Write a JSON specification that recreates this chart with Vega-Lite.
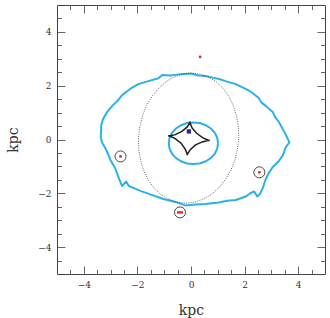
{
  "$schema": "https://vega.github.io/schema/vega-lite/v6.json",
  "width": 268,
  "height": 269,
  "autosize": {"type": "none"},
  "padding": {"left": 57, "top": 5, "right": 5, "bottom": 44},
  "background": "white",
  "config": {
    "view": {"stroke": "#444", "strokeWidth": 1},
    "axis": {
      "domain": false,
      "grid": false,
      "tickColor": "#555",
      "tickWidth": 0.9,
      "labelFont": "DejaVu Serif",
      "labelFontSize": 9,
      "labelColor": "#333",
      "titleFont": "DejaVu Serif",
      "titleFontSize": 14,
      "titleFontWeight": "normal",
      "titleColor": "#333"
    }
  },
  "datasets": {
    "critical_outer": [
      {"i": 0, "x": -0.02, "y": 2.45}, {"i": 1, "x": 0.28, "y": 2.38}, {"i": 2, "x": 0.54, "y": 2.36},
      {"i": 3, "x": 0.81, "y": 2.30}, {"i": 4, "x": 1.05, "y": 2.25}, {"i": 5, "x": 1.29, "y": 2.17},
      {"i": 6, "x": 1.67, "y": 2.06}, {"i": 7, "x": 2.04, "y": 1.88}, {"i": 8, "x": 2.20, "y": 1.80},
      {"i": 9, "x": 2.34, "y": 1.69}, {"i": 10, "x": 2.53, "y": 1.54}, {"i": 11, "x": 2.62, "y": 1.38},
      {"i": 12, "x": 2.79, "y": 1.25}, {"i": 13, "x": 3.05, "y": 1.02}, {"i": 14, "x": 3.15, "y": 0.82},
      {"i": 15, "x": 3.28, "y": 0.65}, {"i": 16, "x": 3.46, "y": 0.32}, {"i": 17, "x": 3.58, "y": 0.09},
      {"i": 18, "x": 3.67, "y": -0.11}, {"i": 19, "x": 3.54, "y": -0.28}, {"i": 20, "x": 3.43, "y": -0.58},
      {"i": 21, "x": 3.28, "y": -0.80}, {"i": 22, "x": 3.05, "y": -1.02}, {"i": 23, "x": 2.90, "y": -1.25},
      {"i": 24, "x": 2.79, "y": -1.47}, {"i": 25, "x": 2.68, "y": -1.80}, {"i": 26, "x": 2.57, "y": -2.03},
      {"i": 27, "x": 2.47, "y": -2.12}, {"i": 28, "x": 2.36, "y": -1.93}, {"i": 29, "x": 2.23, "y": -1.99},
      {"i": 30, "x": 2.04, "y": -2.12}, {"i": 31, "x": 1.67, "y": -2.25}, {"i": 32, "x": 1.35, "y": -2.28},
      {"i": 33, "x": 1.03, "y": -2.34}, {"i": 34, "x": 0.54, "y": -2.40}, {"i": 35, "x": 0.17, "y": -2.42},
      {"i": 36, "x": -0.21, "y": -2.45}, {"i": 37, "x": -0.58, "y": -2.32}, {"i": 38, "x": -1.03, "y": -2.21},
      {"i": 39, "x": -1.52, "y": -2.04}, {"i": 40, "x": -1.89, "y": -1.91}, {"i": 41, "x": -2.15, "y": -1.80},
      {"i": 42, "x": -2.32, "y": -1.73}, {"i": 43, "x": -2.42, "y": -1.56}, {"i": 44, "x": -2.57, "y": -1.73},
      {"i": 45, "x": -2.68, "y": -1.47}, {"i": 46, "x": -2.83, "y": -1.06}, {"i": 47, "x": -3.01, "y": -0.76},
      {"i": 48, "x": -3.09, "y": -0.54}, {"i": 49, "x": -3.20, "y": -0.32}, {"i": 50, "x": -3.31, "y": -0.13},
      {"i": 51, "x": -3.37, "y": 0.09}, {"i": 52, "x": -3.35, "y": 0.35}, {"i": 53, "x": -3.35, "y": 0.54},
      {"i": 54, "x": -3.28, "y": 0.76}, {"i": 55, "x": -3.13, "y": 1.02}, {"i": 56, "x": -2.94, "y": 1.25},
      {"i": 57, "x": -2.75, "y": 1.43}, {"i": 58, "x": -2.57, "y": 1.65}, {"i": 59, "x": -2.27, "y": 1.88},
      {"i": 60, "x": -1.97, "y": 2.06}, {"i": 61, "x": -1.59, "y": 2.17}, {"i": 62, "x": -1.22, "y": 2.28},
      {"i": 63, "x": -1.07, "y": 2.40}, {"i": 64, "x": -0.77, "y": 2.38}, {"i": 65, "x": -0.39, "y": 2.43},
      {"i": 66, "x": -0.02, "y": 2.45}
    ],
    "ring": [
      {"i": 0, "x": 1.78, "y": 0.05}, {"i": 1, "x": 1.77, "y": 0.47}, {"i": 2, "x": 1.70, "y": 0.88},
      {"i": 3, "x": 1.58, "y": 1.26}, {"i": 4, "x": 1.41, "y": 1.61}, {"i": 5, "x": 1.20, "y": 1.90},
      {"i": 6, "x": 0.94, "y": 2.15}, {"i": 7, "x": 0.65, "y": 2.32}, {"i": 8, "x": 0.34, "y": 2.43},
      {"i": 9, "x": 0.02, "y": 2.47}, {"i": 10, "x": -0.31, "y": 2.43}, {"i": 11, "x": -0.63, "y": 2.32},
      {"i": 12, "x": -0.93, "y": 2.15}, {"i": 13, "x": -1.21, "y": 1.90}, {"i": 14, "x": -1.45, "y": 1.61},
      {"i": 15, "x": -1.66, "y": 1.26}, {"i": 16, "x": -1.81, "y": 0.88}, {"i": 17, "x": -1.91, "y": 0.47},
      {"i": 18, "x": -1.96, "y": 0.05}, {"i": 19, "x": -1.95, "y": -0.37}, {"i": 20, "x": -1.88, "y": -0.78},
      {"i": 21, "x": -1.76, "y": -1.16}, {"i": 22, "x": -1.59, "y": -1.51}, {"i": 23, "x": -1.38, "y": -1.80},
      {"i": 24, "x": -1.12, "y": -2.05}, {"i": 25, "x": -0.83, "y": -2.22}, {"i": 26, "x": -0.52, "y": -2.33},
      {"i": 27, "x": -0.20, "y": -2.37}, {"i": 28, "x": 0.13, "y": -2.33}, {"i": 29, "x": 0.45, "y": -2.22},
      {"i": 30, "x": 0.75, "y": -2.05}, {"i": 31, "x": 1.03, "y": -1.80}, {"i": 32, "x": 1.27, "y": -1.51},
      {"i": 33, "x": 1.48, "y": -1.16}, {"i": 34, "x": 1.63, "y": -0.78}, {"i": 35, "x": 1.73, "y": -0.37},
      {"i": 36, "x": 1.78, "y": 0.05}
    ],
    "critical_inner": [
      {"i": 0, "x": 1.01, "y": -0.14}, {"i": 1, "x": 0.98, "y": 0.06}, {"i": 2, "x": 0.89, "y": 0.25},
      {"i": 3, "x": 0.74, "y": 0.41}, {"i": 4, "x": 0.55, "y": 0.53}, {"i": 5, "x": 0.33, "y": 0.61},
      {"i": 6, "x": 0.09, "y": 0.635}, {"i": 7, "x": -0.15, "y": 0.61}, {"i": 8, "x": -0.37, "y": 0.53},
      {"i": 9, "x": -0.56, "y": 0.41}, {"i": 10, "x": -0.71, "y": 0.25}, {"i": 11, "x": -0.80, "y": 0.06},
      {"i": 12, "x": -0.83, "y": -0.14}, {"i": 13, "x": -0.80, "y": -0.34}, {"i": 14, "x": -0.71, "y": -0.53},
      {"i": 15, "x": -0.56, "y": -0.69}, {"i": 16, "x": -0.37, "y": -0.81}, {"i": 17, "x": -0.15, "y": -0.89},
      {"i": 18, "x": 0.09, "y": -0.915}, {"i": 19, "x": 0.33, "y": -0.89}, {"i": 20, "x": 0.55, "y": -0.81},
      {"i": 21, "x": 0.74, "y": -0.69}, {"i": 22, "x": 0.89, "y": -0.53}, {"i": 23, "x": 0.98, "y": -0.34},
      {"i": 24, "x": 1.01, "y": -0.14}
    ],
    "caustic": [
      {"i": 0, "x": 0.70, "y": -0.04}, {"i": 1, "x": 0.62, "y": -0.02}, {"i": 2, "x": 0.43, "y": 0.07},
      {"i": 3, "x": 0.21, "y": 0.23}, {"i": 4, "x": 0.04, "y": 0.43}, {"i": 5, "x": -0.03, "y": 0.60},
      {"i": 6, "x": -0.04, "y": 0.66}, {"i": 7, "x": -0.06, "y": 0.60}, {"i": 8, "x": -0.15, "y": 0.46},
      {"i": 9, "x": -0.34, "y": 0.30}, {"i": 10, "x": -0.58, "y": 0.18}, {"i": 11, "x": -0.77, "y": 0.14},
      {"i": 12, "x": -0.85, "y": 0.14}, {"i": 13, "x": -0.775, "y": 0.12}, {"i": 14, "x": -0.59, "y": 0.03},
      {"i": 15, "x": -0.37, "y": -0.14}, {"i": 16, "x": -0.22, "y": -0.35}, {"i": 17, "x": -0.15, "y": -0.52},
      {"i": 18, "x": -0.14, "y": -0.58}, {"i": 19, "x": -0.12, "y": -0.52}, {"i": 20, "x": -0.02, "y": -0.37},
      {"i": 21, "x": 0.17, "y": -0.20}, {"i": 22, "x": 0.42, "y": -0.09}, {"i": 23, "x": 0.62, "y": -0.04},
      {"i": 24, "x": 0.70, "y": -0.04}
    ],
    "source": [
      {"x": -0.08, "y": 0.30}
    ],
    "images": [
      {"img": "A", "x": 0.34, "y": 3.07, "ringed": false},
      {"img": "B", "x": -2.63, "y": -0.63, "ringed": true},
      {"img": "C", "x": 2.55, "y": -1.22, "ringed": true},
      {"img": "D", "x": -0.41, "y": -2.71, "ringed": true}
    ]
  },
  "resolve": {"axis": {"x": "independent", "y": "independent"}},
  "layer": [
    {
      "data": {"name": "critical_outer"},
      "mark": {"type": "line", "color": "#2ab2e6", "strokeWidth": 2, "strokeJoin": "round"},
      "encoding": {
        "x": {"field": "x", "type": "quantitative", "scale": {"domain": [-5, 5], "nice": false, "zero": false},
          "axis": {"orient": "bottom", "values": [-4, -2, 0, 2, 4], "tickSize": -8, "labelPadding": 14, "title": "kpc", "titlePadding": 14}},
        "y": {"field": "y", "type": "quantitative", "scale": {"domain": [-5, 5], "nice": false, "zero": false},
          "axis": {"orient": "left", "values": [-4, -2, 0, 2, 4], "tickSize": -8, "labelPadding": 14, "title": "kpc", "titlePadding": 17}},
        "order": {"field": "i", "type": "quantitative"}
      }
    },
    {
      "data": {"name": "ring"},
      "mark": {"type": "line", "color": "#444", "strokeWidth": 0.8, "strokeDash": [1, 1.3]},
      "encoding": {
        "x": {"field": "x", "type": "quantitative", "scale": {"domain": [-5, 5], "nice": false, "zero": false},
          "axis": {"orient": "bottom", "values": [-4.5, -3.5, -3, -2.5, -1.5, -1, -0.5, 0.5, 1, 1.5, 2.5, 3, 3.5, 4.5], "tickSize": -4.5, "labels": false, "title": null}},
        "y": {"field": "y", "type": "quantitative", "scale": {"domain": [-5, 5], "nice": false, "zero": false},
          "axis": {"orient": "left", "values": [-4.5, -3.5, -3, -2.5, -1.5, -1, -0.5, 0.5, 1, 1.5, 2.5, 3, 3.5, 4.5], "tickSize": -4.5, "labels": false, "title": null}},
        "order": {"field": "i", "type": "quantitative"}
      }
    },
    {
      "data": {"name": "critical_inner"},
      "mark": {"type": "line", "color": "#2ab2e6", "strokeWidth": 2},
      "encoding": {
        "x": {"field": "x", "type": "quantitative", "scale": {"domain": [-5, 5], "nice": false, "zero": false},
          "axis": {"orient": "top", "values": [-4, -2, 0, 2, 4], "tickSize": -8, "labels": false, "title": null}},
        "y": {"field": "y", "type": "quantitative", "scale": {"domain": [-5, 5], "nice": false, "zero": false},
          "axis": {"orient": "right", "values": [-4, -2, 0, 2, 4], "tickSize": -8, "labels": false, "title": null}},
        "order": {"field": "i", "type": "quantitative"}
      }
    },
    {
      "data": {"name": "caustic"},
      "mark": {"type": "line", "color": "#1e1e1e", "strokeWidth": 1.5},
      "encoding": {
        "x": {"field": "x", "type": "quantitative", "scale": {"domain": [-5, 5], "nice": false, "zero": false},
          "axis": {"orient": "top", "values": [-4.5, -3.5, -3, -2.5, -1.5, -1, -0.5, 0.5, 1, 1.5, 2.5, 3, 3.5, 4.5], "tickSize": -4.5, "labels": false, "title": null}},
        "y": {"field": "y", "type": "quantitative", "scale": {"domain": [-5, 5], "nice": false, "zero": false},
          "axis": {"orient": "right", "values": [-4.5, -3.5, -3, -2.5, -1.5, -1, -0.5, 0.5, 1, 1.5, 2.5, 3, 3.5, 4.5], "tickSize": -4.5, "labels": false, "title": null}},
        "order": {"field": "i", "type": "quantitative"}
      }
    },
    {
      "data": {"name": "source"},
      "mark": {"type": "point", "shape": "square", "filled": true, "color": "#27278c", "size": 18, "opacity": 1},
      "encoding": {
        "x": {"field": "x", "type": "quantitative", "axis": null},
        "y": {"field": "y", "type": "quantitative", "axis": null}
      }
    },
    {
      "data": {"name": "images"},
      "transform": [{"filter": "datum.ringed"}],
      "mark": {"type": "point", "shape": "circle", "filled": false, "color": "#333", "strokeWidth": 0.9, "size": 121, "opacity": 1},
      "encoding": {
        "x": {"field": "x", "type": "quantitative", "axis": null},
        "y": {"field": "y", "type": "quantitative", "axis": null}
      }
    },
    {
      "data": {"name": "images"},
      "transform": [{"filter": "datum.img != 'D'"}],
      "mark": {"type": "point", "shape": "circle", "filled": true, "color": "#e8262a", "size": 8, "opacity": 1},
      "encoding": {
        "x": {"field": "x", "type": "quantitative", "axis": null},
        "y": {"field": "y", "type": "quantitative", "axis": null}
      }
    },
    {
      "data": {"name": "images"},
      "transform": [{"filter": "datum.img == 'D'"}],
      "mark": {"type": "point", "shape": "M-1,-0.4L1,-0.4L1,0.4L-1,0.4Z", "filled": true, "color": "#e8262a", "size": 36, "opacity": 1},
      "encoding": {
        "x": {"field": "x", "type": "quantitative", "axis": null},
        "y": {"field": "y", "type": "quantitative", "axis": null}
      }
    }
  ]
}
